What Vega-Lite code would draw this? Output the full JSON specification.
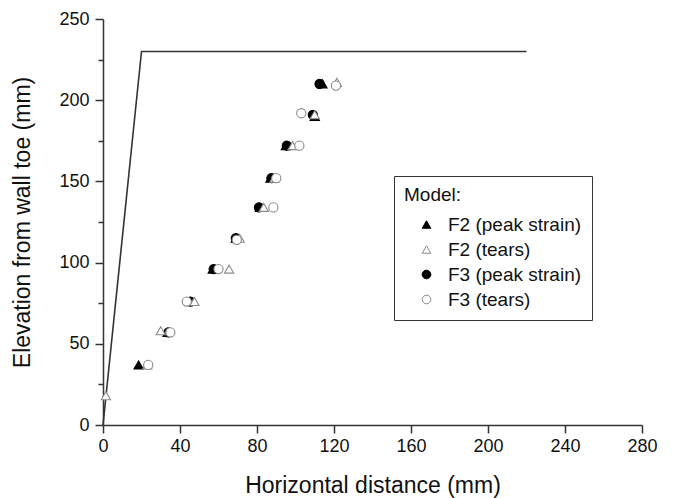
{
  "$schema": "https://vega.github.io/schema/vega-lite/v6.json",
  "width": 539,
  "height": 406,
  "autosize": {"type": "none"},
  "padding": {"left": 103, "top": 19, "right": 31, "bottom": 73},
  "background": "white",
  "config": {
    "font": "Liberation Sans",
    "view": {"stroke": null},
    "axis": {
      "grid": false,
      "domainColor": "#333333",
      "domainWidth": 1.5,
      "tickColor": "#333333",
      "tickWidth": 1.5,
      "labelFont": "Liberation Sans",
      "labelFontSize": 18,
      "labelColor": "#111111",
      "titleFont": "Liberation Sans",
      "titleFontSize": 23,
      "titleFontWeight": "normal",
      "titleColor": "#111111"
    }
  },
  "layer": [
    {
      "data": {"values": [
        {"x": 0, "y": 0, "k": 0},
        {"x": 20, "y": 230, "k": 1},
        {"x": 220, "y": 230, "k": 2}
      ]},
      "mark": {"type": "line", "color": "#333333", "strokeWidth": 1.6},
      "encoding": {
        "x": {"field": "x", "type": "quantitative", "scale": {"domain": [0, 280], "nice": false}},
        "y": {"field": "y", "type": "quantitative", "scale": {"domain": [0, 250], "nice": false}},
        "order": {"field": "k", "type": "quantitative"}
      }
    },
    {
      "data": {"values": [
        {"series": "F3 (peak strain)", "x": 112.5, "y": 210},
        {"series": "F3 (peak strain)", "x": 109, "y": 191},
        {"series": "F3 (peak strain)", "x": 95.5, "y": 172},
        {"series": "F3 (peak strain)", "x": 87.5, "y": 152},
        {"series": "F3 (peak strain)", "x": 81, "y": 134},
        {"series": "F3 (peak strain)", "x": 69, "y": 115},
        {"series": "F3 (peak strain)", "x": 57.5, "y": 96},
        {"series": "F3 (peak strain)", "x": 45.5, "y": 76},
        {"series": "F3 (peak strain)", "x": 34, "y": 57},
        {"series": "F2 (peak strain)", "x": 114, "y": 210},
        {"series": "F2 (peak strain)", "x": 110, "y": 190},
        {"series": "F2 (peak strain)", "x": 95, "y": 172},
        {"series": "F2 (peak strain)", "x": 87, "y": 152},
        {"series": "F2 (peak strain)", "x": 81.5, "y": 134},
        {"series": "F2 (peak strain)", "x": 69, "y": 115},
        {"series": "F2 (peak strain)", "x": 57, "y": 96},
        {"series": "F2 (peak strain)", "x": 45, "y": 76},
        {"series": "F2 (peak strain)", "x": 33.5, "y": 57},
        {"series": "F2 (peak strain)", "x": 18.5, "y": 37},
        {"series": "F2 (tears)", "x": 121.5, "y": 211},
        {"series": "F2 (tears)", "x": 110, "y": 191},
        {"series": "F2 (tears)", "x": 98.5, "y": 172},
        {"series": "F2 (tears)", "x": 89, "y": 152},
        {"series": "F2 (tears)", "x": 83.5, "y": 134},
        {"series": "F2 (tears)", "x": 71, "y": 115},
        {"series": "F2 (tears)", "x": 65.5, "y": 96},
        {"series": "F2 (tears)", "x": 47.5, "y": 76},
        {"series": "F2 (tears)", "x": 30, "y": 58},
        {"series": "F2 (tears)", "x": 23, "y": 37},
        {"series": "F2 (tears)", "x": 1.5, "y": 18},
        {"series": "F3 (tears)", "x": 121, "y": 209},
        {"series": "F3 (tears)", "x": 103, "y": 192},
        {"series": "F3 (tears)", "x": 102, "y": 172},
        {"series": "F3 (tears)", "x": 90, "y": 152},
        {"series": "F3 (tears)", "x": 88.5, "y": 134},
        {"series": "F3 (tears)", "x": 69.5, "y": 114},
        {"series": "F3 (tears)", "x": 60, "y": 96},
        {"series": "F3 (tears)", "x": 43.5, "y": 76},
        {"series": "F3 (tears)", "x": 35, "y": 57},
        {"series": "F3 (tears)", "x": 23.5, "y": 37}
      ]},
      "mark": {"type": "point", "size": 85, "strokeWidth": 1.1, "opacity": 1},
      "encoding": {
        "x": {
          "field": "x", "type": "quantitative",
          "scale": {"domain": [0, 280], "nice": false},
          "axis": {
            "title": "Horizontal distance (mm)",
            "values": [0, 20, 40, 60, 80, 100, 120, 140, 160, 180, 200, 220, 240, 260, 280],
            "labelExpr": "datum.value % 40 === 0 ? datum.label : ''",
            "tickSize": {"condition": {"test": "datum.value % 40 === 0", "value": 8}, "value": 5},
            "labelPadding": 4,
            "titlePadding": 19,
            "labelFlush": false
          }
        },
        "y": {
          "field": "y", "type": "quantitative",
          "scale": {"domain": [0, 250], "nice": false},
          "axis": {
            "title": "Elevation from wall toe (mm)",
            "values": [0, 25, 50, 75, 100, 125, 150, 175, 200, 225, 250],
            "labelExpr": "datum.value % 50 === 0 ? datum.label : ''",
            "tickSize": {"condition": {"test": "datum.value % 50 === 0", "value": 8}, "value": 5},
            "labelPadding": 6,
            "titlePadding": 24,
            "labelFlush": false
          }
        },
        "shape": {
          "field": "series", "type": "nominal",
          "scale": {
            "domain": ["F2 (peak strain)", "F2 (tears)", "F3 (peak strain)", "F3 (tears)"],
            "range": ["triangle-up", "triangle-up", "circle", "circle"]
          },
          "legend": {
            "title": "Model:",
            "orient": "none",
            "legendX": 291,
            "legendY": 157,
            "padding": 10,
            "strokeColor": "#333333",
            "titleFontSize": 19,
            "titleFontWeight": "normal",
            "titleColor": "#111111",
            "titlePadding": 10,
            "labelFontSize": 19,
            "labelColor": "#111111",
            "labelLimit": 400,
            "labelOffset": 12,
            "symbolOffset": 13,
            "symbolSize": 75,
            "symbolStrokeWidth": 1,
            "rowPadding": 5,
            "labelExpr": "(datum.label === 'F2 (peak strain)' ? '' : '\u00a0\u00a0') + datum.label + '\u00a0\u00a0\u00a0'"
          }
        },
        "fill": {
          "field": "series", "type": "nominal",
          "scale": {
            "domain": ["F2 (peak strain)", "F2 (tears)", "F3 (peak strain)", "F3 (tears)"],
            "range": ["#000000", "#ffffff", "#000000", "#ffffff"]
          }
        },
        "stroke": {
          "field": "series", "type": "nominal",
          "scale": {
            "domain": ["F2 (peak strain)", "F2 (tears)", "F3 (peak strain)", "F3 (tears)"],
            "range": ["#000000", "#8a8a8a", "#000000", "#8a8a8a"]
          }
        }
      }
    }
  ]
}
